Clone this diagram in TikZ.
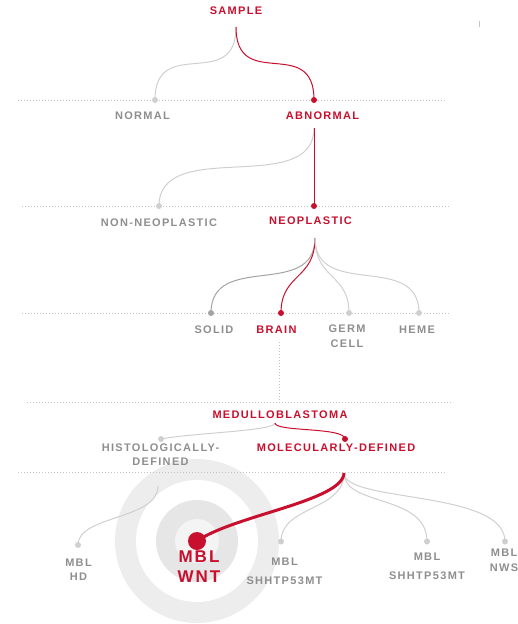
\documentclass[tikz,border=0pt]{standalone}
\usepackage{fontspec}
\setmainfont{Liberation Sans}[LetterSpace=12]
\definecolor{cred}{HTML}{C8102E}
\definecolor{tgray}{HTML}{8E8E8E}
\definecolor{lgray}{HTML}{CFCFCF}
\definecolor{mgray}{HTML}{A3A3A3}
\definecolor{rgray}{HTML}{C4C4C4}
\definecolor{ringA}{HTML}{EDEDED}
\definecolor{ringB}{HTML}{E6E6E6}
\definecolor{ringC}{HTML}{F4F4F4}
\tikzset{
  lbl/.style={font=\fontsize{11}{14.5}\selectfont\bfseries, text=tgray, align=center, inner sep=0pt},
  redlbl/.style={lbl, text=cred},
  biglbl/.style={font=\fontsize{17}{19.7}\selectfont\bfseries, text=cred, align=center, inner sep=0pt},
  gdot/.style={circle, fill=lgray, inner sep=0pt, minimum size=6pt},
  mdot/.style={gdot, fill=mgray},
  rdot/.style={gdot, fill=cred},
  bigdot/.style={circle, fill=cred, inner sep=0pt, minimum size=18pt},
  link/.style={draw=lgray, line width=1pt},
  darklink/.style={draw=mgray, line width=1pt},
  redlink/.style={draw=cred, line width=1pt},
  thicklink/.style={draw=cred, line width=3pt},
  rule/.style={draw=rgray, line width=0.9pt, dash pattern=on 1pt off 2pt},
}
\begin{document}
\begin{tikzpicture}[x=1pt, y=-1pt]
\useasboundingbox (0,0) rectangle (518,624);
% target rings
\fill[ringA] (197,541) circle (82);
\fill[white] (197,541) circle (61);
\fill[ringB] (197,541) circle (41);
\fill[ringC] (197,541) circle (22);
% small tick
\coordinate (tka) at (479,21);
\coordinate (tkb) at (479,27);
\draw[rgray, line width=1pt] (tka) -- (tkb);
% dotted rules
\coordinate (r1a) at (18,100);  \coordinate (r1b) at (445,100);
\coordinate (r2a) at (22,206);  \coordinate (r2b) at (450,206);
\coordinate (r3a) at (22,313);  \coordinate (r3b) at (450,313);
\coordinate (r4a) at (27,402);  \coordinate (r4b) at (453,402);
\coordinate (r5a) at (18,472);  \coordinate (r5b) at (447,472);
\draw[rule] (r1a) -- (r1b);
\draw[rule] (r2a) -- (r2b);
\draw[rule] (r3a) -- (r3b);
\draw[rule] (r4a) -- (r4b);
\draw[rule] (r5a) -- (r5b);
% labels
\node[redlbl] (sample) at (236,11) {SAMPLE};
\node[lbl] (normal) at (142.5,116) {NORMAL};
\node[redlbl] (abnormal) at (322.5,116) {ABNORMAL};
\node[lbl] (nonneo) at (159,223) {NON-NEOPLASTIC};
\node[redlbl] (neo) at (310.5,221) {NEOPLASTIC};
\node[lbl] (solid) at (214,329.5) {SOLID};
\node[redlbl] (brain) at (276.5,329.5) {BRAIN};
\node[lbl] (germ) at (347,336.3) {GERM\\CELL};
\node[lbl] (heme) at (417,329.5) {HEME};
\node[redlbl] (medullo) at (280,414.5) {MEDULLOBLASTOMA};
\node[lbl] (hist) at (160.5,454.5) {HISTOLOGICALLY-\\DEFINED};
\node[redlbl] (mol) at (336,448) {MOLECULARLY-DEFINED};
\node[lbl] (hd) at (78.5,569.8) {MBL\\HD};
\node[biglbl] (wnt) at (199,566.8) {MBL\\WNT};
\node[lbl] (shha) at (284.5,570.8) {MBL\\[4.5pt]SHHTP53MT};
\node[lbl] (shhb) at (427,566.3) {MBL\\[4.5pt]SHHTP53MT};
\node[lbl] (nws) at (504,560.5) {MBL\\NWS};
% branch points
\coordinate (s0) at (236,27);
\coordinate (a0) at (314,128);
\coordinate (n0) at (315,238);
\coordinate (b0) at (279,342);
\coordinate (b1) at (279,400);
\coordinate (m0) at (275,423);
\coordinate (d0) at (344,473);
\coordinate (h0) at (158,486);
% dots
\node[gdot] (dnormal) at (155,100) {};
\node[rdot] (dabn) at (314,100) {};
\node[gdot] (dnonneo) at (159,206) {};
\node[rdot] (dneo) at (314,206) {};
\node[mdot] (dsolid) at (211,313) {};
\node[rdot] (dbrain) at (281,313) {};
\node[gdot] (dgerm) at (349,313) {};
\node[gdot] (dheme) at (419,313) {};
\node[gdot] (dhist) at (161,439) {};
\node[rdot] (dmol) at (345,439) {};
\node[gdot] (dhd) at (78,545) {};
\node[gdot] (dshha) at (281,541.5) {};
\node[gdot] (dshhb) at (427,541.5) {};
\node[gdot] (dnws) at (505,541.5) {};
\node[bigdot] (dwnt) at (197,541) {};
% connectors
\draw[link] (s0) .. controls +(0,66) and +(0,-66) .. (dnormal.center);
\draw[redlink] (s0) .. controls +(0,66) and +(0,-66) .. (dabn.center);
\draw[link] (a0) .. controls +(0,70) and +(0,-70) .. (dnonneo.center);
\draw[redlink] (a0) -- (dneo.center);
\draw[darklink] (n0) .. controls +(0,62) and +(0,-62) .. (dsolid.center);
\draw[redlink] (n0) .. controls +(0,42) and +(0,-40) .. (dbrain.center);
\draw[link] (n0) .. controls +(0,42) and +(0,-40) .. (dgerm.center);
\draw[link] (n0) .. controls +(0,62) and +(0,-62) .. (dheme.center);
\draw[rule] (b0) -- (b1);
\draw[link] (m0) .. controls +(0,8) and +(30,-6) .. (dhist.center);
\draw[redlink] (m0) .. controls +(0,9) and +(0,-12) .. (dmol.center);
\draw[link] (h0) .. controls +(0,34) and +(0,-30) .. (dhd.center);
\draw[link] (d0) .. controls +(0,38) and +(0,-36) .. (dshha.center);
\draw[link] (d0) .. controls +(0,34) and +(0,-48) .. (dshhb.center);
\draw[link] (d0) .. controls +(0,30) and +(0,-52) .. (dnws.center);
\draw[thicklink] (d0) .. controls +(-1,28) and +(38,-26) .. (dwnt.center);
\end{tikzpicture}
\end{document}
